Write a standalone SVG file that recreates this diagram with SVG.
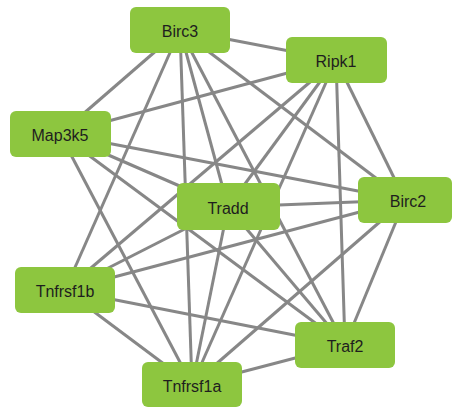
<svg xmlns="http://www.w3.org/2000/svg" width="453" height="407" viewBox="0 0 453 407">
<style>
.e{stroke:#878787;stroke-width:3;fill:none}
.n rect{fill:#8dc63f}
.n text{font-family:"Liberation Sans",Arial,sans-serif;font-size:16px;fill:#1e1e1e;text-anchor:middle;dominant-baseline:central}
</style>
<rect width="453" height="407" fill="#ffffff"/>
<g id="edges" class="e">
<line x1="180" y1="30" x2="336" y2="60"/>
<line x1="180" y1="30" x2="60" y2="134"/>
<line x1="180" y1="30" x2="228" y2="207"/>
<line x1="180" y1="30" x2="405" y2="200"/>
<line x1="180" y1="30" x2="65" y2="290"/>
<line x1="180" y1="30" x2="345" y2="345"/>
<line x1="180" y1="30" x2="192" y2="385"/>
<line x1="336" y1="60" x2="60" y2="134"/>
<line x1="336" y1="60" x2="228" y2="207"/>
<line x1="336" y1="60" x2="405" y2="200"/>
<line x1="336" y1="60" x2="65" y2="290"/>
<line x1="336" y1="60" x2="345" y2="345"/>
<line x1="336" y1="60" x2="192" y2="385"/>
<line x1="60" y1="134" x2="228" y2="207"/>
<line x1="60" y1="134" x2="405" y2="200"/>
<line x1="60" y1="134" x2="345" y2="345"/>
<line x1="60" y1="134" x2="192" y2="385"/>
<line x1="228" y1="207" x2="405" y2="200"/>
<line x1="228" y1="207" x2="65" y2="290"/>
<line x1="228" y1="207" x2="345" y2="345"/>
<line x1="228" y1="207" x2="192" y2="385"/>
<line x1="405" y1="200" x2="65" y2="290"/>
<line x1="405" y1="200" x2="345" y2="345"/>
<line x1="405" y1="200" x2="192" y2="385"/>
<line x1="65" y1="290" x2="345" y2="345"/>
<line x1="65" y1="290" x2="192" y2="385"/>
<line x1="345" y1="345" x2="192" y2="385"/>
</g>
<g id="Birc3" class="n"><rect x="130" y="7" width="100" height="46" rx="6"/><text x="180" y="31">Birc3</text></g>
<g id="Ripk1" class="n"><rect x="286" y="37" width="101" height="46" rx="6"/><text x="336" y="61">Ripk1</text></g>
<g id="Map3k5" class="n"><rect x="10" y="111" width="101" height="46" rx="6"/><text x="60" y="135">Map3k5</text></g>
<g id="Tradd" class="n"><rect x="177" y="183" width="103" height="47" rx="6"/><text x="228" y="208">Tradd</text></g>
<g id="Birc2" class="n"><rect x="358" y="177" width="94" height="46" rx="6"/><text x="408" y="201">Birc2</text></g>
<g id="Tnfrsf1b" class="n"><rect x="15" y="267" width="100" height="46" rx="6"/><text x="65" y="291">Tnfrsf1b</text></g>
<g id="Traf2" class="n"><rect x="295" y="322" width="100" height="46" rx="6"/><text x="345" y="346">Traf2</text></g>
<g id="Tnfrsf1a" class="n"><rect x="142" y="362" width="100" height="45" rx="6"/><text x="192" y="386">Tnfrsf1a</text></g>
</svg>
